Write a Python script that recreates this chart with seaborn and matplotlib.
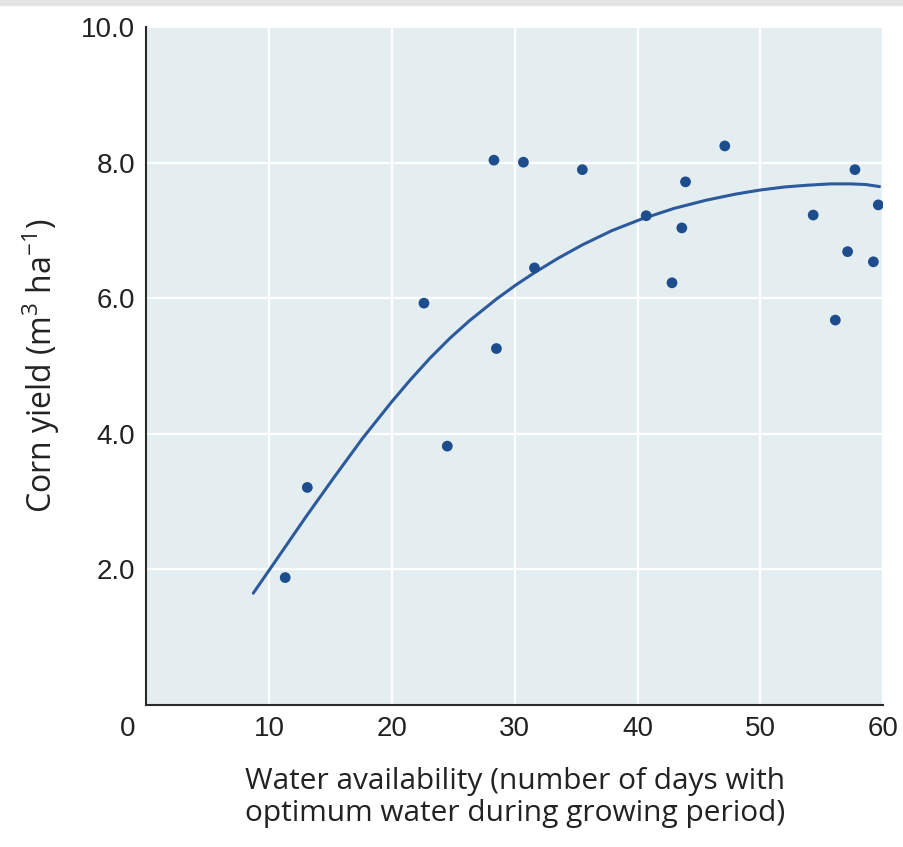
import matplotlib
matplotlib.use("Agg")
import matplotlib.pyplot as plt
from matplotlib.patches import Rectangle
import seaborn as sns
import pandas as pd

# observed plots: water availability (days) vs corn yield
water_days = [11.3, 13.1, 22.6, 24.5, 28.3, 28.5, 30.7, 31.6, 35.5, 40.7,
              42.8, 43.6, 43.9, 47.1, 54.3, 56.1, 57.1, 57.7, 59.2, 59.6]
corn_yield = [1.88, 3.21, 5.93, 3.82, 8.04, 5.26, 8.01, 6.45, 7.90, 7.22,
              6.23, 7.04, 7.72, 8.25, 7.23, 5.68, 6.69, 7.90, 6.54, 7.38]

# fitted response curve
curve_x = [8.7, 10.0, 11.5, 13.0, 15.3, 17.6, 20.0, 21.5, 23.1, 24.7, 26.3, 28.5,
           30.1, 31.6, 33.5, 35.5, 37.9, 40.3, 43.0, 45.6, 48.0, 50.0, 52.0,
           53.8, 55.7, 57.4, 58.6, 59.7]
curve_y = [1.65, 1.99, 2.385, 2.78, 3.365, 3.935, 4.48, 4.80, 5.12, 5.41, 5.67, 5.99,
           6.20, 6.38, 6.59, 6.79, 7.00, 7.17, 7.33, 7.45, 7.54, 7.60, 7.645,
           7.67, 7.69, 7.69, 7.68, 7.65]

x_ticks = [10, 20, 30, 40, 50, 60]
y_ticks = [2.0, 4.0, 6.0, 8.0, 10.0]

sns.set_style("white")
plt.rcParams['font.family'] = ['Open Sans', 'DejaVu Sans']
plt.rcParams['mathtext.fontset'] = 'custom'
plt.rcParams['mathtext.rm'] = 'Open Sans'
plt.rcParams['mathtext.default'] = 'regular'

pts = pd.DataFrame({'water': water_days, 'yield': corn_yield})
fit = pd.DataFrame({'water': curve_x, 'yield': curve_y})

fig = plt.figure(figsize=(9.04, 8.47), dpi=100)
fig.patches.append(Rectangle((0, 1 - 5 / 847), 1, 5 / 847, transform=fig.transFigure,
                             color='#e4e4e4', zorder=0))
ax = fig.add_axes([0.162, 0.1677, 0.815, 0.800])
ax.set_facecolor('#e4eef0')

ax.set_xlim(0, 60)
ax.set_ylim(0, 10)
ax.set_xticks(x_ticks)
ax.set_yticks(y_ticks)
ax.set_yticklabels([f"{v:.1f}" for v in y_ticks])
ax.grid(True, color='white', linewidth=1.6)
ax.set_axisbelow(True)

sns.lineplot(data=fit, x='water', y='yield', ax=ax, color='#2c5a9c',
             linewidth=2.2, sort=False, zorder=3)
sns.scatterplot(data=pts, x='water', y='yield', ax=ax, color='#1d4d8c',
                s=60, edgecolor='none', zorder=4)

for side in ['top', 'right']:
    ax.spines[side].set_visible(False)
for side in ['left', 'bottom']:
    ax.spines[side].set_color('#2a2a2a')
    ax.spines[side].set_linewidth(1.5)

tick_font = ['Liberation Sans', 'DejaVu Sans']
ax.tick_params(axis='x', direction='in', length=12, width=1.1, color='#2a2a2a',
               pad=8, labelsize=20, labelcolor='#222222')
ax.tick_params(axis='y', direction='in', length=11, width=1.1, color='#2a2a2a',
               pad=8, labelsize=20, labelcolor='#222222')
for lab in ax.get_xticklabels() + ax.get_yticklabels():
    lab.set_family(tick_font)

# the shared origin label sits below-left of the corner
ax.annotate('0', xy=(0, 0), xycoords='data', xytext=(-19, -11),
            textcoords='offset pixels', ha='center', va='top',
            fontsize=20, color='#222222', family=tick_font)

ax.set_xlabel("Water availability (number of days with\noptimum water during growing period)",
              fontsize=21.5, color='#222222', labelpad=18, linespacing=1.12)
ax.set_ylabel(r"Corn yield (m$^3$ ha$^{-1}$)", fontsize=23, color='#222222', labelpad=14)

fig.savefig("out.png", dpi=100)
